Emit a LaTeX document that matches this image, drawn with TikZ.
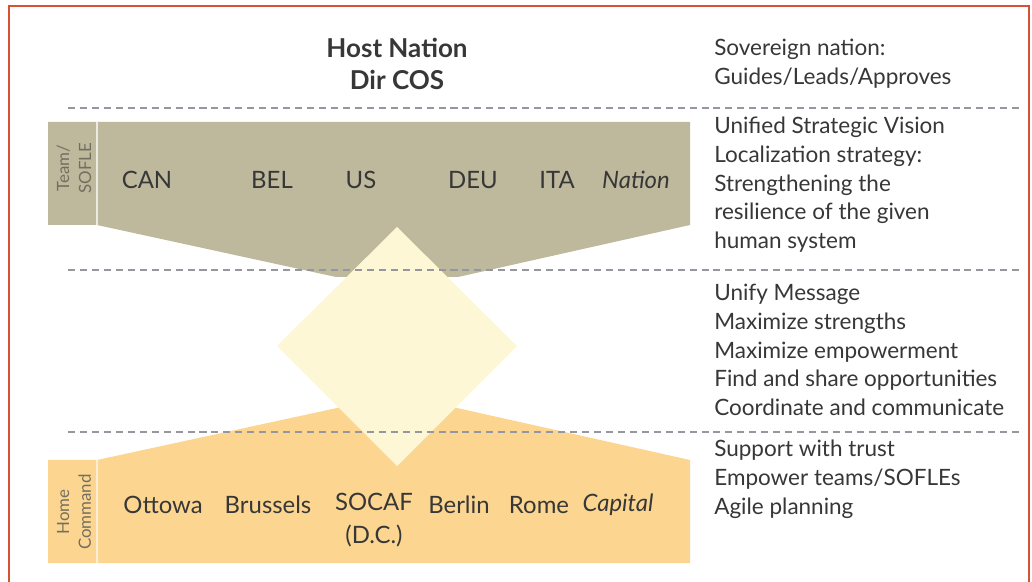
\documentclass[tikz,border=0pt]{standalone}
\usepackage{fontspec}
\setmainfont{Lato}
\usepackage{xcolor}
\usepackage{tikz}
\usetikzlibrary{calc}

\definecolor{frameRed}{RGB}{214,82,52}
\definecolor{teamKhaki}{RGB}{190,185,156}
\definecolor{homeOrange}{RGB}{252,214,145}
\definecolor{unityYellow}{RGB}{253,247,214}
\definecolor{txtGray}{RGB}{55,55,55}
\definecolor{lblGray}{RGB}{115,110,95}
\definecolor{sepGray}{RGB}{150,150,158}

\tikzset{
  sep/.style={sepGray, line width=1.6pt, dash pattern=on 5pt off 3.5pt},
  place/.style={txtGray, font=\fontsize{17}{20}\selectfont, inner sep=0pt},
  note/.style={txtGray, anchor=north west, align=left, inner sep=0pt,
    font=\fontsize{16}{20.4}\selectfont},
  side/.style={lblGray, rotate=90, align=center, inner sep=0pt,
    font=\fontsize{12}{15.5}\selectfont}
}

\begin{document}
\begin{tikzpicture}[x=0.025cm, y=-0.025cm]
\useasboundingbox (0,0) rectangle (1032,582);
% open frame
\draw[frameRed, line width=1.5pt] (9,582) -- (9,6) -- (1029,6) -- (1029,582);

% team band and home band
\fill[teamKhaki] (48,122) -- (690,122) -- (690,225) -- (458,277) -- (336,277) -- (97,225) -- (48,225) -- cycle;
\fill[homeOrange] (48,563) -- (690,563) -- (690,460) -- (457,408) -- (337,408) -- (97,460) -- (48,460) -- cycle;
\draw[white!70!teamKhaki, line width=0.8pt] (97,122) -- (97,225);
\draw[white!60!homeOrange, line width=0.8pt] (97,460) -- (97,563);

% the diamond in between
\fill[unityYellow] (397,227) -- (517,346) -- (397,466) -- (277,346) -- cycle;

% separators
\draw[sep] (68,108) -- (1020,108);
\draw[sep] (68,270) -- (1020,270);
\draw[sep] (68,432) -- (1020,432);

% header
\node[txtGray, align=center, font=\bfseries\fontsize{18.5}{22.7}\selectfont] (host) at (397,64) {Host Nation\\Dir COS};

% side labels
\node[side] (team) at (74,168) {Team/\\SOFLE};
\node[side] (home) at (74,512) {Home\\Command};

% nations
\node[place] (can) at (147,180) {CAN};
\node[place] (bel) at (272,180) {BEL};
\node[place] (us) at (361,180) {US};
\node[place] (deu) at (473,180) {DEU};
\node[place] (ita) at (557,180) {ITA};
\node[place, font=\itshape\fontsize{17}{20}\selectfont] (nation) at (636,180) {Nation};

% capitals
\node[place] (ott) at (163,505) {Ottowa};
\node[place] (bru) at (268,505) {Brussels};
\node[place, align=center, anchor=north, font=\fontsize{17}{23.5}\selectfont] (socaf) at (374,493) {SOCAF\\(D.C.)};
\node[place] (ber) at (459,505) {Berlin};
\node[place] (rom) at (539,505) {Rome};
\node[place, font=\itshape\fontsize{17}{20}\selectfont] (cap) at (618,505) {Capital};

% notes on the right
\node[note] (n1) at (714,39) {Sovereign nation:\\Guides/Leads/Approves};
\node[note] (n2) at (714,117) {Unified Strategic Vision\\Localization strategy:\\Strengthening the\\resilience of the given\\human system};
\node[note] (n3) at (714,284) {Unify Message\\Maximize strengths\\Maximize empowerment\\Find and share opportunities\\Coordinate and communicate};
\node[note] (n4) at (714,440) {Support with trust\\Empower teams/SOFLEs\\Agile planning};
\end{tikzpicture}
\end{document}
